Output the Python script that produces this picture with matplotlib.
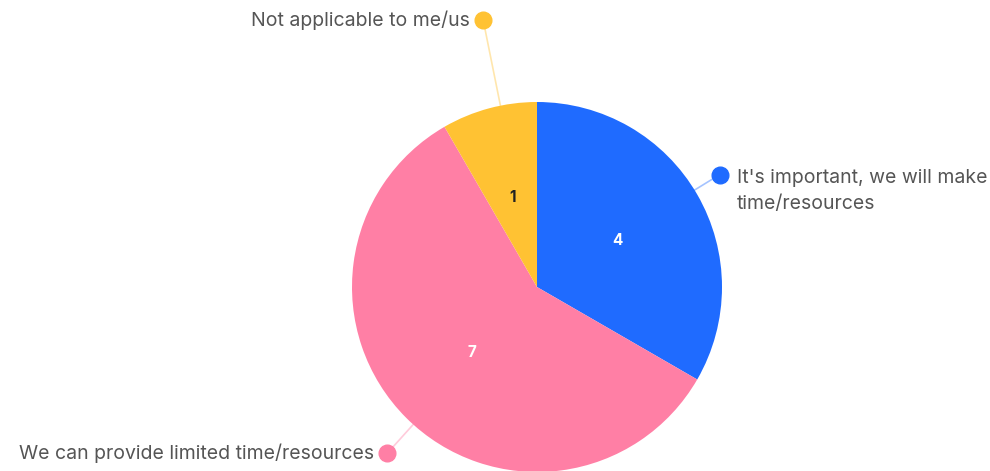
import numpy as np
import matplotlib

matplotlib.use("Agg")

import matplotlib.pyplot as plt

W, H = 990, 471

labels = [
    "It's important, we will make\ntime/resources",
    "We can provide limited time/resources",
    "Not applicable to me/us",
]
values = [4, 7, 1]
colors = ["#1f6bff", "#ff7fa5", "#ffc233"]
number_colors = ["white", "white", "#222222"]

# label anchor: turn from the wedge middle (deg), distance from centre (radii), text side
label_turn = [1.6, 3.0, -3.6]
label_dist = [1.16, 1.21, 1.47]
label_side = ["right", "left", "left"]

center = (537, H - 287)
radius = 185
FONT = ["Inter", "DejaVu Sans"]

figure = plt.figure(figsize=(W / 100, H / 100), dpi=100)
axis = figure.add_axes([0, 0, 1, 1])

wedges, _, numbers = axis.pie(
    values,
    colors=colors,
    startangle=90,
    counterclock=False,
    center=center,
    radius=radius,
    autopct=lambda p: f"{round(p * sum(values) / 100)}",
    pctdistance=0.5,
    wedgeprops={"linewidth": 0},
    textprops={"fontsize": 11, "fontweight": "bold", "family": FONT},
)
for text, c in zip(numbers, number_colors):
    text.set_color(c)

for wedge, label, turn, dist, side, c in zip(wedges, labels, label_turn, label_dist, label_side, colors):
    ang = np.deg2rad((wedge.theta1 + wedge.theta2) / 2 + turn)
    edge = (center[0] + radius * 0.98 * np.cos(ang), center[1] + radius * 0.98 * np.sin(ang))
    dot = (center[0] + radius * dist * np.cos(ang), center[1] + radius * dist * np.sin(ang))
    axis.plot([edge[0], dot[0]], [edge[1], dot[1]], color=c, alpha=0.4, lw=1.2, zorder=3)
    axis.plot(dot[0], dot[1], "o", ms=12, color=c, zorder=4)
    if side == "right":
        axis.text(dot[0] + 17, dot[1] + 6, label, ha="left", va="top",
                  fontsize=14, color="#555555", linespacing=1.6, family=FONT)
    else:
        axis.text(dot[0] - 13, dot[1], label, ha="right", va="center",
                  fontsize=14, color="#555555", family=FONT)

axis.set_xlim(0, W)
axis.set_ylim(0, H)
axis.set_aspect("equal")
axis.axis("off")

figure.savefig("out.png", dpi=100)
plt.close(figure)
